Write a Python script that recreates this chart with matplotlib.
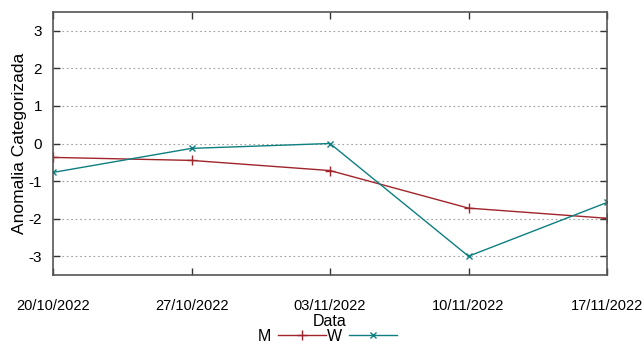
import matplotlib
matplotlib.use("Agg")
import matplotlib.pyplot as plt
from datetime import datetime

plt.rcParams['font.family'] = ['Liberation Sans', 'DejaVu Sans']
plt.rcParams['axes.unicode_minus'] = False

dates = ["20/10/2022", "27/10/2022", "03/11/2022", "10/11/2022", "17/11/2022"]
m_values = [-0.37, -0.45, -0.72, -1.72, -1.99]
w_values = [-0.77, -0.13, 0.0, -3.0, -1.57]
y_ticks = [-3, -2, -1, 0, 1, 2, 3]

x = [datetime.strptime(d, "%d/%m/%Y") for d in dates]

fig = plt.figure(figsize=(6.44, 3.45), dpi=100)
ax = fig.add_axes([53/644, 1 - 275/345, (607-53)/644, (275-12)/345])

ax.plot(x, m_values, color='#a0252a', lw=1.0, marker='+', ms=7, mew=1.0, label='M')
ax.plot(x, w_values, color='#0d7f80', lw=1.0, marker='x', ms=5, mew=1.0, label='W')

ax.set_xlim(x[0], x[-1])
ax.set_ylim(-3.5, 3.5)
ax.set_yticks(y_ticks)
ax.set_xticks(x)
ax.set_xticklabels(dates)
ax.yaxis.grid(True, linestyle=(0, (1.5, 2.5)), color='#a0a0a0', lw=0.8)
ax.tick_params(axis='both', direction='in', length=5, width=1, color='#333333',
               top=True, right=True, labelsize=11)
ax.tick_params(axis='x', pad=17, labelsize=10.5)
ax.tick_params(axis='y', pad=8)
for s in ax.spines.values():
    s.set_color('#555555')
    s.set_linewidth(1.2)

ax.set_ylabel('Anomalia Categorizada', fontsize=12.5, labelpad=1)
ax.set_xlabel('Data', fontsize=11.5, labelpad=1)

leg = ax.legend(loc='center', bbox_to_anchor=(0.495, -0.232), ncol=2, frameon=False,
                markerfirst=False, handlelength=3.0, columnspacing=0.1, handletextpad=0.4,
                fontsize=11.5, borderaxespad=0, borderpad=0)

fig.savefig('out.png', dpi=100)
